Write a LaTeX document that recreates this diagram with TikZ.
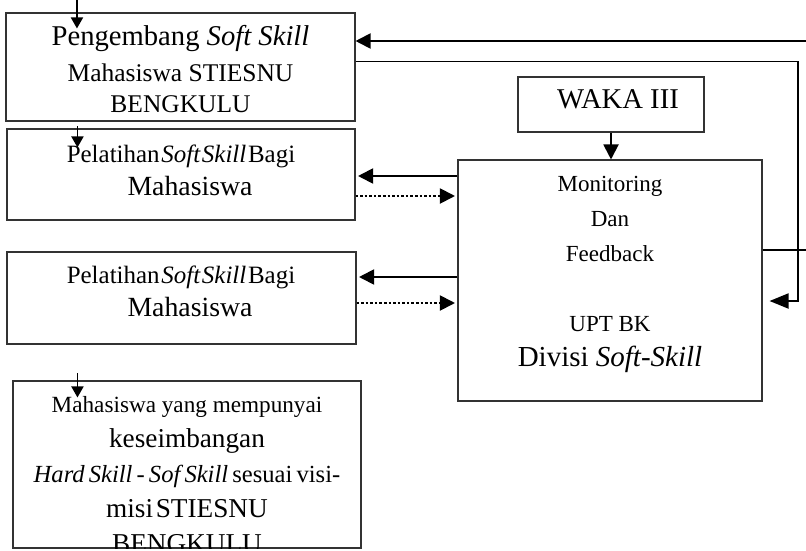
\documentclass[tikz,border=0pt]{standalone}
\usepackage{fontspec}
\setmainfont{Liberation Serif}
\usetikzlibrary{arrows.meta}

\begin{document}
\begin{tikzpicture}[
  box/.style={draw=black!80,line width=0.6pt,inner sep=0pt},
  txt/.style={align=center,inner sep=0pt},
  arr/.style={line width=1.1pt,-{Triangle[length=0.3cm,width=0.3cm]}},
  dotarr/.style={arr,dash pattern=on 1.5pt off 1.1pt},
  small/.style={line width=1pt,-{Triangle[length=0.22cm,width=0.24cm]}}]
\useasboundingbox (0,0) rectangle (16.12,-11);
\node[box,minimum width=6.98cm,minimum height=2.16cm] (peng) at (3.61,-1.34) {};
\node[box,minimum width=6.96cm,minimum height=1.82cm] (lat1) at (3.62,-3.49) {};
\node[box,minimum width=6.98cm,minimum height=1.84cm] (lat2) at (3.63,-5.96) {};
\node[box,minimum width=6.96cm,minimum height=3.34cm] (mhs) at (3.74,-9.29) {};
\node[box,minimum width=3.72cm,minimum height=1.10cm] (waka) at (12.22,-2.09) {};
\node[box,minimum width=6.08cm,minimum height=4.82cm] (mon) at (12.20,-5.61) {};

\node[txt,font=\fontsize{14.5}{17.6}\selectfont] (pengtxt) at (3.61,-1.38)
  {{\fontsize{16.3}{17.6}\selectfont Pengembang \textit{Soft Skill}}\\[3.4pt]
   Mahasiswa STIESNU\\ BENGKULU};
\foreach \n/\y in {lat1/-3.40, lat2/-5.82}{
  \node[txt,font=\fontsize{14.2}{18.8}\selectfont] (\n txt) at (3.62,\y)
    {Pelatihan\hspace{1pt}\textit{Soft\hspace{1pt}Skill}\hspace{1pt}Bagi\\
     {\fontsize{15.8}{18.8}\selectfont\hspace*{0.36cm}Mahasiswa}};
}
\begin{scope}
\clip (mhs.north west) rectangle (mhs.south east);
\node[txt,font=\fontsize{15.5}{19.9}\selectfont] (mhstxt) at (3.74,-9.50)
  {{\fontsize{13.2}{19.9}\selectfont Mahasiswa yang mempunyai}\\ keseimbangan\\
   {\fontsize{14}{19.9}\selectfont\textit{Hard\,Skill\,-\,Sof\,Skill}\,sesuai\,visi-}\\
   misi\hspace{1.5pt}STIESNU\\ BENGKULU};
\end{scope}
\node[txt,font=\fontsize{16.3}{19.9}\selectfont] (wakatxt) at (12.36,-1.99) {WAKA III};
\node[txt,font=\fontsize{13.1}{19.9}\selectfont] (montxt) at (12.20,-5.49)
  {Monitoring\\ Dan\\ Feedback\\[19.9pt] UPT BK\\
   {\fontsize{16.5}{19.9}\selectfont Divisi \textit{Soft-Skill}}};

\coordinate (fbin) at (16.12,-0.82);
\coordinate (fbtop) at (15.96,-1.23);
\coordinate (fbbot) at (15.96,-6.02);
\coordinate (fbmid) at (16.12,-5.00);
\draw[arr] (fbin) -- (fbin -| peng.east);
\draw[line width=1.1pt,-{Triangle[length=0.38cm,width=0.3cm]},shorten >=0.14cm]
  (fbtop -| peng.east) -- (fbtop) -- (fbbot) -- (fbbot -| mon.east);
\draw[line width=0.6pt] (fbmid -| mon.east) -- (fbmid);
\draw[arr] (waka.south) -- (waka.south |- mon.north);
\foreach \n/\ya/\yb in {lat1/-3.52/-3.92, lat2/-5.54/-6.06}{
  \draw[arr,shorten >=0.05cm] (mon.west |- 0,\ya) -- (\n.east |- 0,\ya);
  \draw[dotarr,shorten >=0.05cm] (\n.east |- 0,\yb) -- (mon.west |- 0,\yb);
}
\foreach \n/\dx/\dy/\l in {peng/1.43/0.26/0.58, lat1/1.42/0.04/0.42, mhs/1.30/0.14/0.48}{
  \draw[small] ([xshift=\dx cm,yshift=\dy cm]\n.north west) -- ++(0,-\l);
}
\end{tikzpicture}
\end{document}
